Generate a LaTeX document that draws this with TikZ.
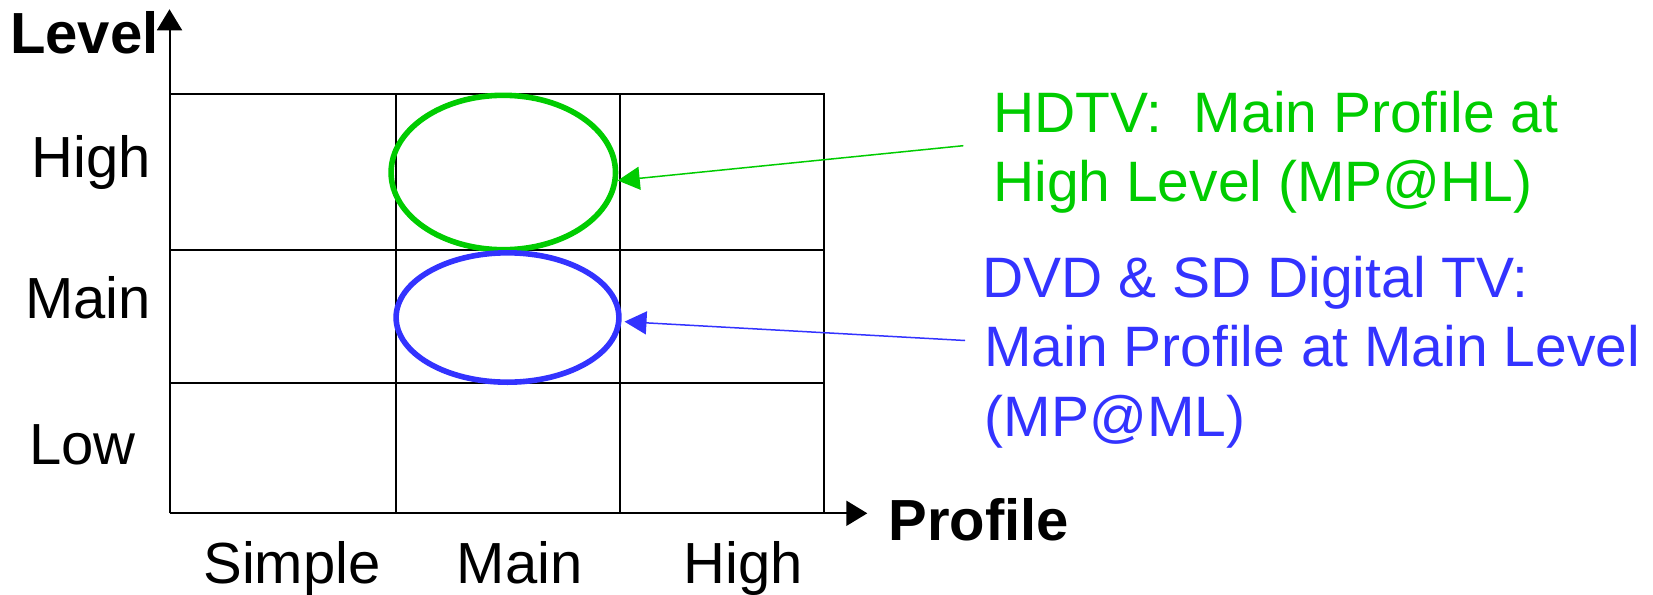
\documentclass[tikz,border=0pt]{standalone}
\usepackage{fontspec}
\setmainfont{Liberation Sans}
\usetikzlibrary{arrows.meta,shapes.geometric}
\definecolor{hdgreen}{RGB}{0,204,0}
\definecolor{sdblue}{RGB}{51,51,255}
\begin{document}
\begin{tikzpicture}[x=0.5pt,y=-0.5pt,
  gridline/.style={line width=1pt},
  axisline/.style={line width=1pt,-{Triangle[length=10.5pt,width=12.5pt]}},
  lab/.style={anchor=base west,inner sep=0pt,font=\fontsize{29pt}{34.5pt}\selectfont},
  axlab/.style={anchor=base west,inner sep=0pt,font=\fontsize{29pt}{34.5pt}\selectfont\bfseries},
  note/.style={anchor=base west,inner sep=0pt,font=\fontsize{28.5pt}{34.5pt}\selectfont},
  ring/.style={ellipse,draw,line width=2.8pt,inner sep=0pt},
  pointer/.style={line width=0.75pt,-{Triangle[length=11pt,width=11.5pt]}}]
\useasboundingbox (0,0) rectangle (1653,594);
% axes
\coordinate (O) at (169.5,513.3);
\coordinate (ytip) at (169.5,9.3);
\coordinate (xtip) at (867.3,513.3);
% grid
\draw[gridline] (169.5,93.5) -- (823.5,93.5) -- (823.5,513.3);
\draw[gridline] (169.5,250) -- (823.5,250);
\draw[gridline] (169.5,382.5) -- (823.5,382.5);
\draw[gridline] (395.5,93.5) -- (395.5,513.3);
\draw[gridline] (619.7,93.5) -- (619.7,513.3);
\draw[axisline] (O) -- (ytip);
\draw[axisline] (O) -- (xtip);
% axis labels
\node[axlab] (lvl) at (9.8,53.3) {Level};
\node[axlab] (prof) at (888.3,540.7) {Profile};
\node[lab] (lh) at (31.4,177.3) {High};
\node[lab] (lm) at (25,318.3) {Main};
\node[lab] (ll) at (29.1,464) {Low};
\node[lab] (ps) at (203,583.3) {Simple};
\node[lab] (pm) at (456.4,583.3) {Main};
\node[lab] (ph) at (683.4,583.3) {High};
% ellipses
\node[ring,draw=hdgreen,minimum width=112.2pt,minimum height=77.2pt] (g) at (503.3,172.5) {};
\node[ring,draw=sdblue,minimum width=111.4pt,minimum height=64.7pt] (b) at (507.5,317.5) {};
% notes
\node[note,text=hdgreen] (hd1) at (992.9,132.7) {HDTV:\ \ Main Profile at};
\node[note,text=hdgreen] (hd2) at (992.9,201.7) {High Level (MP@HL)};
\node[note,text=sdblue] (dv1) at (982,297.3) {DVD \& SD Digital TV:};
\node[note,text=sdblue] (dv2) at (984,366.7) {Main Profile at Main Level};
\node[note,text=sdblue] (dv3) at (984.3,436.7) {(MP@ML)};
% pointers
\coordinate (gstart) at (963.3,145.7);
\coordinate (bstart) at (965,340.5);
\draw[pointer,hdgreen] (gstart) -- (g.-4);
\draw[pointer,sdblue,shorten >=1.5pt] (bstart) -- (b.-2);
\end{tikzpicture}
\end{document}
